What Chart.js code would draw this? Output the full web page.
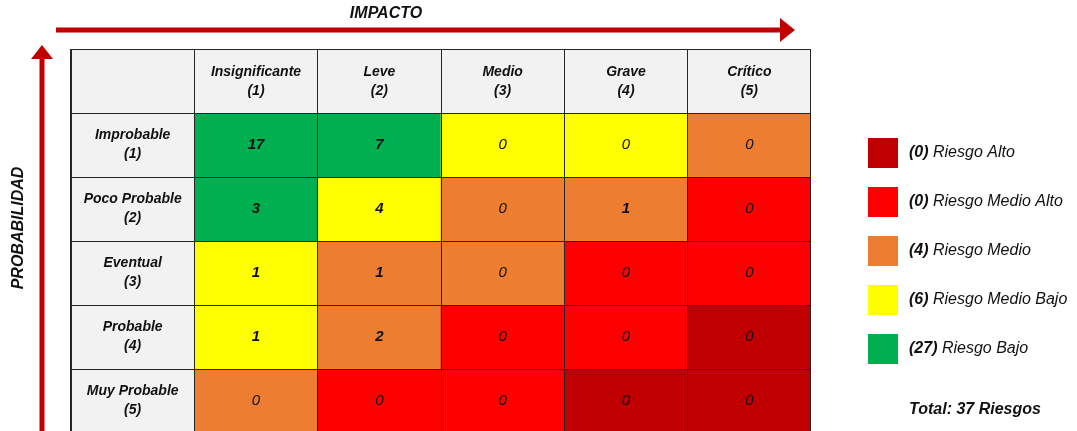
<!DOCTYPE html>
<html>
<head>
<meta charset="utf-8">
<script src="https://cdn.jsdelivr.net/npm/chart.js@4"></script>
<style>
  html, body { margin: 0; padding: 0; background: #fff; overflow: hidden; }
  #wrap { position: absolute; left: 0; top: 0; width: 1077px; height: 440px; }
</style>
</head>
<body>
<div id="wrap"><canvas id="matriz" width="1077" height="440"></canvas></div>
<script>
// datos de la matriz de riesgos
const impactos = ['Insignificante', 'Leve', 'Medio', 'Grave', 'Crítico'];
const probabilidades = ['Improbable', 'Poco Probable', 'Eventual', 'Probable', 'Muy Probable'];

// cantidad de riesgos por celda (fila = probabilidad, columna = impacto)
const fila1 = [17, 7, 0, 0, 0];
const fila2 = [3, 4, 0, 1, 0];
const fila3 = [1, 1, 0, 0, 0];
const fila4 = [1, 2, 0, 0, 0];
const fila5 = [0, 0, 0, 0, 0];
const conteos = [fila1, fila2, fila3, fila4, fila5];

// nivel de riesgo de cada celda: 0 bajo ... 4 alto
const niveles = [
  [0, 0, 1, 1, 2],
  [0, 1, 2, 2, 3],
  [1, 2, 2, 3, 3],
  [1, 2, 3, 3, 4],
  [2, 3, 3, 4, 4]
];
const nombresNivel = ['Riesgo Bajo', 'Riesgo Medio Bajo', 'Riesgo Medio', 'Riesgo Medio Alto', 'Riesgo Alto'];
const coloresNivel = ['#00B050', '#FFFF00', '#ED7D31', '#FF0000', '#C00000'];

const gris = '#F2F2F2';
const rojo = '#C00000';
const fuente = '"Liberation Sans", Arial, sans-serif';

// una fila de la tabla = un dataset apilado (fila 0 es la cabecera)
const datasets = [];
datasets.push({ label: 'cabecera', data: [1, 1, 1, 1, 1, 1], backgroundColor: Array(6).fill(gris) });
conteos.forEach((fila, i) => {
  const colores = [gris].concat(niveles[i].map(n => coloresNivel[n]));
  datasets.push({ label: probabilidades[i], data: [1, 1, 1, 1, 1, 1], backgroundColor: colores });
});

function textoCelda(ctx, lineas, x, y, estilo, size) {
  ctx.font = estilo + ' ' + size + 'px ' + fuente;
  const alto = 19;
  const y0 = y - (lineas.length - 1) * alto / 2;
  lineas.forEach((l, k) => ctx.fillText(l, x, y0 + k * alto));
}

const textos = {
  id: 'textos',
  afterDraw(chart) {
    const ctx = chart.ctx;
    const area = chart.chartArea;
    ctx.save();
    ctx.fillStyle = '#111';
    ctx.textAlign = 'center';
    ctx.textBaseline = 'middle';

    // textos dentro de las celdas
    chart.data.datasets.forEach((ds, i) => {
      const meta = chart.getDatasetMeta(i);
      meta.data.forEach((el, j) => {
        const cx = el.x;
        const cy = (el.y + el.base) / 2;
        if (i === 0 && j > 0) {
          textoCelda(ctx, [impactos[j - 1], '(' + j + ')'], cx, cy, 'italic bold', 14);
        } else if (i > 0 && j === 0) {
          textoCelda(ctx, [probabilidades[i - 1], '(' + i + ')'], cx, cy, 'italic bold', 14);
        } else if (i > 0) {
          const v = conteos[i - 1][j - 1];
          textoCelda(ctx, [String(v)], cx, cy, v > 0 ? 'italic bold' : 'italic', 15);
        }
      });
    });

    // flecha de impacto
    ctx.fillStyle = rojo;
    const ay = area.top - 19;
    ctx.fillRect(area.left - 15, ay - 2.5, (area.right - 30) - (area.left - 15), 5);
    ctx.beginPath();
    ctx.moveTo(area.right - 16, ay);
    ctx.lineTo(area.right - 31, ay - 12);
    ctx.lineTo(area.right - 31, ay + 12);
    ctx.closePath();
    ctx.fill();

    // flecha de probabilidad
    const ax = area.left - 29;
    ctx.fillRect(ax - 2.5, area.top + 8, 5, chart.height - area.top);
    ctx.beginPath();
    ctx.moveTo(ax, area.top - 4);
    ctx.lineTo(ax - 11, area.top + 10);
    ctx.lineTo(ax + 11, area.top + 10);
    ctx.closePath();
    ctx.fill();

    ctx.fillStyle = '#111';
    ctx.font = 'italic bold 16px ' + fuente;
    ctx.fillText('IMPACTO', 386, area.top - 35);
    ctx.save();
    ctx.translate(19, 228);
    ctx.rotate(-Math.PI / 2);
    ctx.fillText('PROBABILIDAD', 0, 0);
    ctx.restore();

    // leyenda con totales por nivel
    ctx.textAlign = 'left';
    const totales = nombresNivel.map((_, n) => {
      let s = 0;
      conteos.forEach((fila, i) => fila.forEach((v, j) => { if (niveles[i][j] === n) s += v; }));
      return s;
    });
    const lx = area.right + 57;
    let ly = 153;
    for (let n = nombresNivel.length - 1; n >= 0; n--) {
      ctx.fillStyle = coloresNivel[n];
      ctx.fillRect(lx, ly - 15, 30, 30);
      ctx.fillStyle = '#111';
      const pre = '(' + totales[n] + ') ';
      ctx.font = 'italic bold 16px ' + fuente;
      ctx.fillText(pre, lx + 41, ly);
      const w = ctx.measureText(pre).width;
      ctx.font = 'italic 16px ' + fuente;
      ctx.fillText(nombresNivel[n], lx + 41 + w, ly);
      ly += 49;
    }
    const total = totales.reduce((a, b) => a + b, 0);
    ctx.font = 'italic bold 16px ' + fuente;
    ctx.fillText('Total: ' + total + ' Riesgos', lx + 41, 410);
    ctx.restore();
  }
};

new Chart(document.getElementById('matriz'), {
  type: 'bar',
  data: {
    labels: [''].concat(impactos),
    datasets: datasets
  },
  options: {
    responsive: false,
    animation: false,
    layout: { padding: { left: 71, top: 49, right: 266, bottom: 7 } },
    datasets: { bar: { categoryPercentage: 1, barPercentage: 1, borderWidth: 0 } },
    plugins: { legend: { display: false }, tooltip: { enabled: false } },
    scales: {
      x: {
        stacked: true,
        ticks: { display: false },
        grid: { color: '#262626', lineWidth: 1, drawTicks: false, z: 1 },
        border: { color: '#262626', z: 1 }
      },
      y: {
        stacked: true,
        reverse: true,
        min: 0,
        max: 6,
        ticks: { display: false, stepSize: 1 },
        grid: { color: '#262626', lineWidth: 1, drawTicks: false, z: 1 },
        border: { color: '#262626', z: 1 }
      }
    }
  },
  plugins: [textos]
});
</script>
</body>
</html>
